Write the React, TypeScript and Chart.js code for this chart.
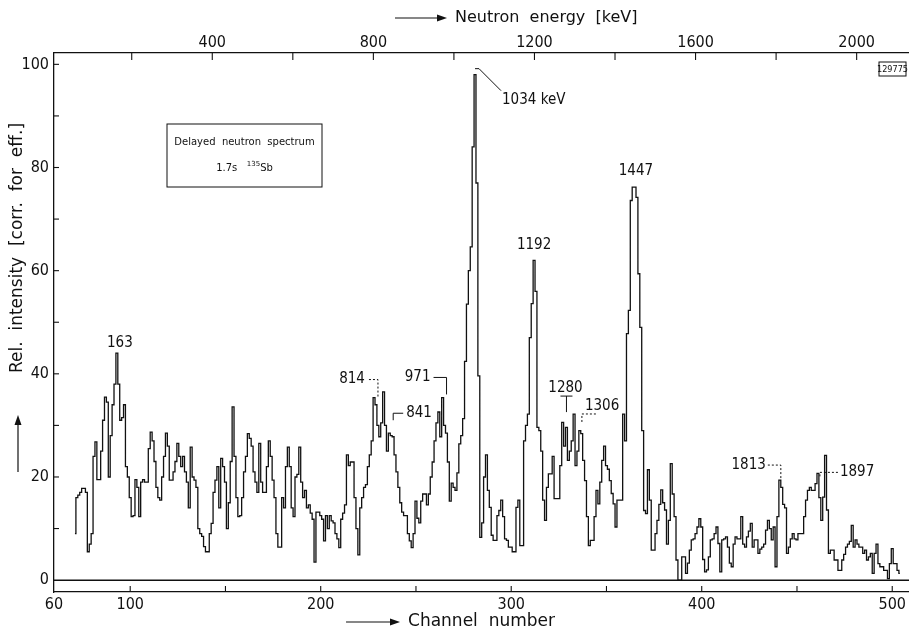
import { useEffect, useRef } from 'react';
import { Chart, registerables } from 'chart.js';

Chart.register(...registerables);

// ---------- data ----------
const FIRST_CHANNEL = 71;
// relative intensity per channel, channels 71 .. 504
const intensity: number[] = [
  9, 16, 16.5, 17, 17.8, 17.8, 17, 5.5, 7, 9, // 71-80
  24, 26.8, 19.5, 19.5, 25, 31, 35.5, 34.5, 20, 28, // 81-90
  34, 38, 44, 38, 31, 31.5, 34, 22, 20, 16, // 91-100
  12.3, 12.5, 19.5, 18, 12.3, 19, 19.5, 19, 19, 25.5, // 101-110
  28.7, 27, 23, 18, 16, 15.5, 20, 24, 28.5, 26, // 111-120
  19.4, 19.4, 21, 23, 26.5, 24, 22, 24, 21, 19, // 121-130
  14, 25.8, 20, 19.4, 18, 10, 9, 8.5, 6.5, 5.5, // 131-140
  5.5, 9, 11, 17, 19.4, 22, 14, 23.6, 22, 19, // 141-150
  10, 15, 23, 33.6, 24, 16, 12.3, 12.5, 16, 21, // 151-160
  24, 28.4, 27.5, 26, 21, 19, 17, 26.5, 19, 17, // 161-170
  17, 22, 27, 24, 19.4, 16, 9, 6.4, 6.4, 16, // 171-180
  14, 22, 25.8, 22, 14, 12.3, 20, 20.5, 25.8, 19, // 181-190
  16, 17.4, 14, 14.6, 13, 11.8, 3.5, 13.2, 13.2, 12.5, // 191-200
  11.8, 7.6, 12.5, 10, 12.5, 11.5, 11.1, 9, 8, 6.3, // 201-210
  11.8, 13, 14.6, 24.3, 22.2, 22.9, 22.9, 16, 10, 4.9, // 211-220
  14, 16, 18, 18.5, 22, 24.3, 27, 35.4, 34, 30, // 221-230
  27.8, 30.5, 36.5, 30, 25, 28.5, 28, 27.8, 24.3, 21, // 231-240
  18, 15, 13.2, 12.5, 12.5, 9, 7.6, 6.3, 9, 15.3, // 241-250
  12, 11.1, 15.3, 16.7, 16.7, 14.6, 16.7, 20, 22.9, 27, // 251-260
  30.5, 32.6, 27.8, 35.4, 30, 28.5, 22.9, 15.3, 18.8, 18, // 261-270
  17.4, 20.8, 26.4, 28, 31.3, 42.4, 53.5, 60, 64.6, 84, // 271-280
  98, 77, 39.6, 8.3, 11.1, 20, 24.3, 17.4, 14.1, 8.7, // 281-290
  7.7, 7.7, 12.5, 13.5, 15.5, 12.3, 8, 7.7, 6.4, 6.4, // 291-300
  5.5, 5.5, 14.1, 15.5, 6.7, 6.7, 27, 30, 32.2, 47, // 301-310
  53.6, 62, 56, 29.6, 29, 25, 15.5, 11.6, 18, 20.6, // 311-320
  20.6, 24, 15.8, 15.8, 15.8, 22.2, 30.6, 26, 29.6, 23.2, // 321-330
  25, 27, 32.2, 22.2, 25, 29, 28.4, 23.2, 19.3, 12.3, // 331-340
  6.7, 7.7, 7.7, 12.3, 17.4, 14.8, 19, 23.2, 26, 22.2, // 341-350
  21.5, 19.3, 16.8, 14.8, 10.3, 15.5, 15.5, 15.5, 32.2, 27, // 351-360
  47.8, 52.3, 73.6, 76.2, 76.2, 74.2, 59.4, 49, 29, 13.5, // 361-370
  12.9, 21.4, 15.5, 5.8, 5.8, 9, 11.6, 14.7, 17.5, 15, // 371-380
  13.6, 7, 11.6, 22.6, 16.7, 12.3, 3.9, 0, 0, 4.5, // 381-390
  4.5, 1.3, 3.3, 5.8, 7.8, 8, 9, 10.3, 11.9, 10.3, // 391-400
  4, 1.6, 2, 4.5, 7.8, 8, 9, 10.3, 7.1, 1.6, // 401-410
  7.8, 8, 8.4, 6.4, 3.3, 2.6, 7, 8.4, 8, 8, // 411-420
  12.3, 7, 6.4, 8.4, 9.5, 11, 6.4, 7.8, 7.8, 5.2, // 421-430
  6, 6.4, 7, 9.7, 11.6, 10, 7.8, 10.3, 2.6, 12.3, // 431-440
  19.4, 18, 14.7, 14, 5.2, 6.4, 8, 9, 8, 7.8, // 441-450
  9, 9, 9, 12.3, 15.5, 17.4, 18, 17.4, 17.4, 18.7, // 451-460
  20.7, 16, 11.6, 16.1, 24.2, 13.6, 5.2, 5.8, 5.8, 3.9, // 461-470
  3.9, 1.9, 1.9, 3.9, 5, 6.4, 7, 7.5, 10.6, 6.4, // 471-480
  7.8, 7, 6.4, 6.4, 5.2, 5.8, 3.9, 4.5, 5.2, 1.3, // 481-490
  5.2, 7, 3.2, 2.6, 2.6, 1.9, 1.9, 0.3, 3.2, 6.1, // 491-500
  3.2, 3.2, 1.9, 1.3, // 501-504
];
const channels: number[] = intensity.map((_, i) => FIRST_CHANNEL + i);

const yTickValues = [0, 10, 20, 30, 40, 50, 60, 70, 80, 90, 100];
const yLabelValues = [0, 20, 40, 60, 80, 100];
const channelTickValues = [60, 100, 150, 200, 250, 300, 350, 400, 450, 500];
const channelLabelValues = [60, 100, 200, 300, 400, 500];
const energyTickValues = [200, 400, 600, 800, 1000, 1200, 1400, 1600, 1800, 2000];
const energyLabelValues = [400, 800, 1200, 1600, 2000];

const peakTexts = ['163', '814', '841', '971', '1034 keV', '1192', '1280', '1306', '1447', '1813', '1897'];
const peakChannels = [93, 229, 237, 265, 281, 312, 329, 335, 364.4, 441, 461];
const peakIntensities = [44, 35.4, 31, 36, 98, 62, 32, 29.5, 76.2, 19.4, 20.7];

// energy calibration (channel = ref + (E - E_ref) * slope)
const CAL_REF_CHANNEL = 100.8;
const CAL_REF_ENERGY = 200;
const CAL_CHANNELS_PER_KEV = 0.2114;
const channelOfEnergy = (e: number) => CAL_REF_CHANNEL + (e - CAL_REF_ENERGY) * CAL_CHANNELS_PER_KEV;

// ---------- layout / style ----------
const X_MIN = 60;
const X_MAX = 508.8;
const Y_MIN = -2.3;
const Y_MAX = 102.2;
const INK = '#111111';
const NARROW = "'Liberation Sans Narrow', 'DejaVu Sans Condensed', 'Liberation Sans', sans-serif";
const SANS = "'DejaVu Sans', 'Liberation Sans', sans-serif";

type Pt = [number, number];
interface AnnLayout { text: Pt; align: CanvasTextAlign; leaders: Pt[][]; dash: boolean; }
const annotationLayout: AnnLayout[] = [
  { text: [3, -10], align: 'center', leaders: [], dash: false }, // 163
  { text: [-11, -18], align: 'right', leaders: [[[2, -1], [2, -18], [-8, -18]]], dash: true }, // 814
  { text: [15, -7], align: 'left', leaders: [[[2, 0], [2, -7], [12, -7]]], dash: false }, // 841
  { text: [-14, -17], align: 'right', leaders: [[[2, 0], [2, -17], [-11, -17]]], dash: false }, // 971
  { text: [27, 25], align: 'left', leaders: [[[0, -6], [4, -6], [26, 16]]], dash: false }, // 1034
  { text: [0, -15], align: 'center', leaders: [], dash: false }, // 1192
  { text: [-1, -27], align: 'center', leaders: [[[0, -3], [0, -19]], [[-6, -19], [6, -19]]], dash: false }, // 1280
  { text: [7, -22], align: 'left', leaders: [[[4, -6], [4, -14], [20, -14]]], dash: true }, // 1306
  { text: [2, -16], align: 'center', leaders: [], dash: false }, // 1447
  { text: [-14, -15], align: 'right', leaders: [[[1, -2], [1, -15], [-12, -15]]], dash: true }, // 1813
  { text: [22, -1], align: 'left', leaders: [[[2, 3], [2, -1], [20, -1]]], dash: true }, // 1897
];

function arrow(ctx: CanvasRenderingContext2D, x1: number, y1: number, x2: number, y2: number) {
  const ang = Math.atan2(y2 - y1, x2 - x1);
  const hl = 10, hw = 3.5;
  const bx = x2 - hl * Math.cos(ang), by = y2 - hl * Math.sin(ang);
  ctx.beginPath();
  ctx.moveTo(x1, y1);
  ctx.lineTo(bx, by);
  ctx.stroke();
  ctx.beginPath();
  ctx.moveTo(x2, y2);
  ctx.lineTo(bx + hw * Math.sin(ang), by - hw * Math.cos(ang));
  ctx.lineTo(bx - hw * Math.sin(ang), by + hw * Math.cos(ang));
  ctx.closePath();
  ctx.fill();
}

function seg(ctx: CanvasRenderingContext2D, x1: number, y1: number, x2: number, y2: number) {
  ctx.beginPath();
  ctx.moveTo(x1, y1);
  ctx.lineTo(x2, y2);
  ctx.stroke();
}

const decorPlugin = {
  id: 'decor',
  afterDraw(chart: any) {
    const { ctx, chartArea: a, scales } = chart;
    const xs = scales.x, ys = scales.y;
    ctx.save();
    ctx.strokeStyle = INK;
    ctx.fillStyle = INK;
    ctx.lineWidth = 1.2;

    // zero line
    const y0 = ys.getPixelForValue(0);
    ctx.lineWidth = 1.5;
    seg(ctx, a.left, y0, a.right, y0);
    ctx.lineWidth = 1.1;

    // inward tick marks
    yTickValues.forEach((v) => {
      if (v === 0) return;
      const py = ys.getPixelForValue(v);
      seg(ctx, a.left, py, a.left + 5, py);
    });
    channelTickValues.forEach((c) => {
      if (c === X_MIN) return;
      const px = xs.getPixelForValue(c);
      seg(ctx, px, a.bottom, px, a.bottom - 6);
    });
    energyTickValues.forEach((e) => {
      const px = xs.getPixelForValue(channelOfEnergy(e));
      seg(ctx, px, a.top, px, a.top + 7);
    });

    // peak annotations
    ctx.font = `15px ${NARROW}`;
    ctx.textBaseline = 'middle';
    peakTexts.forEach((t, i) => {
      const L = annotationLayout[i];
      const ax = xs.getPixelForValue(peakChannels[i]);
      const ay = ys.getPixelForValue(peakIntensities[i]);
      ctx.setLineDash(L.dash ? [2, 2] : []);
      ctx.lineWidth = 1;
      L.leaders.forEach((poly) => {
        ctx.beginPath();
        poly.forEach(([dx, dy], k) => (k === 0 ? ctx.moveTo(ax + dx, ay + dy) : ctx.lineTo(ax + dx, ay + dy)));
        ctx.stroke();
      });
      ctx.setLineDash([]);
      ctx.textAlign = L.align;
      ctx.fillText(t, ax + L.text[0], ay + L.text[1]);
    });

    // inset box
    const bx = a.left + 113, by = a.top + 71, bw = 155, bh = 63;
    ctx.lineWidth = 1;
    ctx.strokeRect(bx, by, bw, bh);
    ctx.textAlign = 'center';
    ctx.font = `10px ${SANS}`;
    ctx.fillText('Delayed  neutron  spectrum', bx + bw / 2, by + 18);
    const cx = bx + bw / 2, ly = by + 44;
    ctx.textAlign = 'left';
    ctx.font = `10px ${SANS}`;
    const part1 = '1.7s   ';
    const w1 = ctx.measureText(part1).width;
    ctx.font = `7px ${SANS}`;
    const w2 = ctx.measureText('135').width;
    ctx.font = `10px ${SANS}`;
    const w3 = ctx.measureText('Sb').width;
    let sx = cx - (w1 + w2 + w3) / 2;
    ctx.fillText(part1, sx, ly);
    sx += w1;
    ctx.font = `7px ${SANS}`;
    ctx.fillText('135', sx, ly - 4);
    sx += w2;
    ctx.font = `10px ${SANS}`;
    ctx.fillText('Sb', sx, ly);

    // corner id box
    ctx.font = `9px ${NARROW}`;
    ctx.textAlign = 'center';
    ctx.strokeRect(a.right - 30, a.top + 9, 27, 14);
    ctx.fillText('129775', a.right - 16.5, a.top + 16.5);

    // axis titles with arrows
    ctx.lineWidth = 1.2;
    ctx.font = `16px ${SANS}`;
    ctx.textAlign = 'left';
    ctx.fillText('Neutron  energy  [keV]', 455, 18);
    arrow(ctx, 395, 18, 447, 18);
    const cnX = (a.left + a.right) / 2;
    ctx.textAlign = 'center';
    ctx.font = `17px ${SANS}`;
    ctx.fillText('Channel  number', cnX, 622);
    const cnW = ctx.measureText('Channel  number').width;
    arrow(ctx, cnX - cnW / 2 - 62, 622, cnX - cnW / 2 - 8, 622);

    ctx.save();
    ctx.translate(18, 248);
    ctx.rotate(-Math.PI / 2);
    ctx.font = `17px ${SANS}`;
    ctx.textAlign = 'center';
    ctx.fillText('Rel.  intensity  [corr.  for  eff.]', 0, 0);
    ctx.restore();
    arrow(ctx, 18, 472, 18, 415);

    ctx.restore();
  },
};

export default function App() {
  const ref = useRef<HTMLCanvasElement | null>(null);

  useEffect(() => {
    if (!ref.current) return;
    const chart = new Chart(ref.current, {
      type: 'line',
      data: {
        datasets: [
          {
            data: channels.map((c, i) => ({ x: c, y: intensity[i] })),
            stepped: 'middle',
            borderColor: INK,
            borderWidth: 1.3,
            pointRadius: 0,
            fill: false,
          },
        ],
      },
      options: {
        responsive: false,
        animation: false,
        devicePixelRatio: 1,
        layout: { padding: 0 },
        plugins: { legend: { display: false }, tooltip: { enabled: false }, title: { display: false } },
        scales: {
          x: {
            type: 'linear',
            position: 'bottom',
            min: X_MIN,
            max: X_MAX,
            afterFit: (s: any) => { s.height = 43; },
            afterBuildTicks: (s: any) => { s.ticks = channelTickValues.map((v) => ({ value: v })); },
            ticks: {
              autoSkip: false,
              maxRotation: 0,
              padding: 3,
              color: INK,
              font: { family: NARROW, size: 16 },
              callback: (v: any) => (channelLabelValues.includes(Number(v)) ? String(v) : ''),
            },
            grid: { drawOnChartArea: false, drawTicks: false },
            border: { display: true, color: INK, width: 1.3 },
          },
          x2: {
            type: 'linear',
            position: 'top',
            min: X_MIN,
            max: X_MAX,
            afterFit: (s: any) => { s.height = 53; },
            afterBuildTicks: (s: any) => { s.ticks = energyTickValues.map((e) => ({ value: channelOfEnergy(e) })); },
            ticks: {
              autoSkip: false,
              maxRotation: 0,
              padding: 1,
              color: INK,
              font: { family: NARROW, size: 16 },
              callback: (_v: any, i: number) => (energyLabelValues.includes(energyTickValues[i]) ? String(energyTickValues[i]) : ''),
            },
            grid: { drawOnChartArea: false, drawTicks: false },
            border: { display: true, color: INK, width: 1.3 },
          },
          y: {
            type: 'linear',
            position: 'left',
            min: Y_MIN,
            max: Y_MAX,
            afterFit: (s: any) => { s.width = 54; },
            afterBuildTicks: (s: any) => { s.ticks = yTickValues.map((v) => ({ value: v })); },
            ticks: {
              autoSkip: false,
              padding: 5,
              color: INK,
              font: { family: NARROW, size: 16 },
              callback: (v: any) => (yLabelValues.includes(Number(v)) ? String(v) : ''),
            },
            grid: { drawOnChartArea: false, drawTicks: false },
            border: { display: true, color: INK, width: 1.3 },
          },
        },
      },
      plugins: [decorPlugin],
    } as any);
    return () => chart.destroy();
  }, []);

  return (
    <div style={{ position: 'fixed', left: 0, top: 0, width: 909, height: 635, background: '#fff' }}>
      <canvas ref={ref} width={909} height={635} style={{ display: 'block' }} />
    </div>
  );
}
